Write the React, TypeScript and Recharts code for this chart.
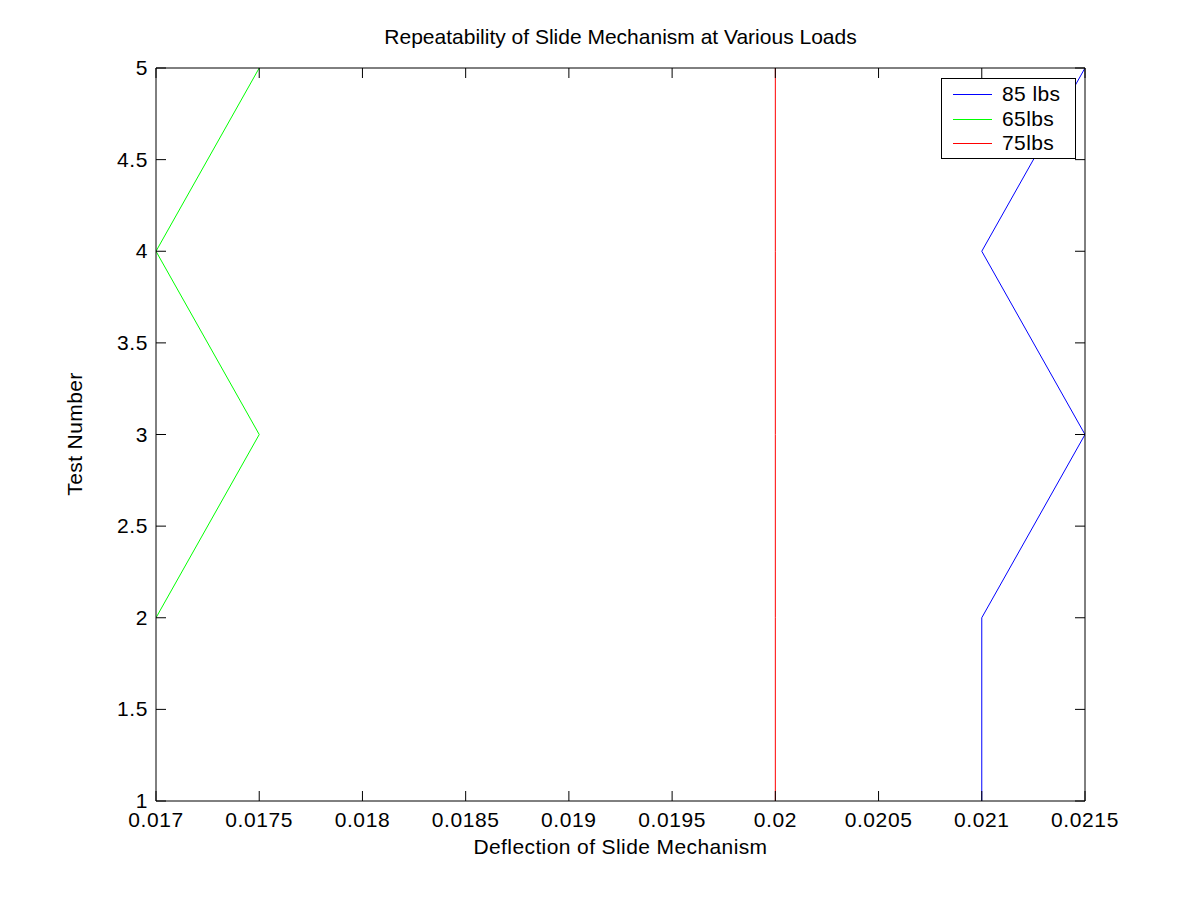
import React from 'react';
import { LineChart, Line, XAxis, YAxis } from 'recharts';

const testNumbers = [1, 2, 3, 4, 5];
const deflection85 = [0.021, 0.021, 0.0215, 0.021, 0.0215];
const deflection65 = [null, 0.017, 0.0175, 0.017, 0.0175];
const deflection75 = [0.02, 0.02, 0.02, 0.02, 0.02];

const xTicks = [0.017, 0.0175, 0.018, 0.0185, 0.019, 0.0195, 0.02, 0.0205, 0.021, 0.0215];
const yTicks = [1, 1.5, 2, 2.5, 3, 3.5, 4, 4.5, 5];

const series = [
  { key: 'b85', name: '85 lbs', color: '#0000ff' },
  { key: 'g65', name: '65lbs', color: '#00ff00' },
  { key: 'r75', name: '75lbs', color: '#ff0000' },
];

const data = testNumbers.map((t, i) => ({
  test: t,
  b85: deflection85[i],
  g65: deflection65[i],
  r75: deflection75[i],
}));

const FONT = '"Liberation Sans", Arial, Helvetica, sans-serif';
const TICK_LEN = 10;

function BottomTick(props: any) {
  const { x, y, payload } = props;
  return (
    <g>
      <line x1={x} y1={y} x2={x} y2={y - TICK_LEN} stroke="#000" />
      <text x={x} y={y + 26} textAnchor="middle" fontSize={21} letterSpacing={0.6} fontFamily={FONT} fill="#000">
        {String(payload.value)}
      </text>
    </g>
  );
}

function TopTick(props: any) {
  const { x, y } = props;
  return <line x1={x} y1={y} x2={x} y2={y + TICK_LEN} stroke="#000" />;
}

function LeftTick(props: any) {
  const { x, y, payload } = props;
  return (
    <g>
      <line x1={x} y1={y} x2={x + TICK_LEN} y2={y} stroke="#000" />
      <text x={x - 8} y={y + 7} textAnchor="end" fontSize={21} letterSpacing={0.6} fontFamily={FONT} fill="#000">
        {String(payload.value)}
      </text>
    </g>
  );
}

function RightTick(props: any) {
  const { x, y } = props;
  return <line x1={x} y1={y} x2={x - TICK_LEN} y2={y} stroke="#000" />;
}

const textStyle: React.CSSProperties = {
  position: 'absolute',
  fontSize: 21,
  lineHeight: '24px',
  color: '#000',
  whiteSpace: 'nowrap',
};

export default function App() {
  return (
    <div style={{ position: 'absolute', left: 0, top: 0, width: 1200, height: 900, background: '#fff', fontFamily: FONT }}>
      <LineChart
        width={1200}
        height={900}
        data={data}
        layout="vertical"
        margin={{ top: 58, right: 105, bottom: 69, left: 96 }}
      >
        <XAxis
          type="number"
          domain={[0.017, 0.0215]}
          ticks={xTicks}
          allowDataOverflow
          height={30}
          tickSize={0}
          tickMargin={0}
          tickLine={false}
          axisLine={{ stroke: '#000' }}
          tick={<BottomTick />}
          interval={0}
        />
        <XAxis
          xAxisId="top"
          orientation="top"
          type="number"
          domain={[0.017, 0.0215]}
          ticks={xTicks}
          allowDataOverflow
          height={10}
          tickSize={0}
          tickMargin={0}
          tickLine={false}
          axisLine={{ stroke: '#000' }}
          tick={<TopTick />}
          interval={0}
        />
        <YAxis
          type="number"
          dataKey="test"
          domain={[1, 5]}
          ticks={yTicks}
          reversed
          allowDataOverflow
          width={60}
          tickSize={0}
          tickMargin={0}
          tickLine={false}
          axisLine={{ stroke: '#000' }}
          tick={<LeftTick />}
          interval={0}
        />
        <YAxis
          yAxisId="right"
          orientation="right"
          type="number"
          dataKey="test"
          domain={[1, 5]}
          ticks={yTicks}
          reversed
          allowDataOverflow
          width={10}
          tickSize={0}
          tickMargin={0}
          tickLine={false}
          axisLine={{ stroke: '#000' }}
          tick={<RightTick />}
          interval={0}
        />
        {series.map((s) => (
          <Line
            key={s.key}
            type="linear"
            dataKey={s.key}
            name={s.name}
            stroke={s.color}
            strokeWidth={1}
            dot={false}
            activeDot={false}
            connectNulls={false}
            isAnimationActive={false}
          />
        ))}
      </LineChart>

      <div style={{ ...textStyle, left: 0, width: 1241, top: 25, textAlign: 'center' }}>
        Repeatability of Slide Mechanism at Various Loads
      </div>
      <div style={{ ...textStyle, left: 0, width: 1241, top: 835, textAlign: 'center', letterSpacing: 0.4 }}>
        Deflection of Slide Mechanism
      </div>
      <div
        style={{
          ...textStyle,
          left: 75,
          top: 434,
          letterSpacing: 0.4,
          transform: 'translate(-50%, -50%) rotate(-90deg)',
        }}
      >
        Test Number
      </div>

      <div
        style={{
          position: 'absolute',
          left: 941,
          top: 78,
          width: 133,
          height: 79,
          border: '1px solid #000',
          background: '#fff',
          boxSizing: 'content-box',
        }}
      >
        <svg width={133} height={79} style={{ position: 'absolute', left: 0, top: 0 }}>
          {series.map((s, i) => (
            <line
              key={s.key}
              x1={11}
              x2={50}
              y1={15.5 + Math.round(i * 24.5)}
              y2={15.5 + Math.round(i * 24.5)}
              stroke={s.color}
              strokeWidth={1}
            />
          ))}
        </svg>
        {series.map((s, i) => (
          <div key={s.key} style={{ ...textStyle, left: 60, top: 3 + Math.round(i * 24.5), letterSpacing: 0.4 }}>
            {s.name}
          </div>
        ))}
      </div>
    </div>
  );
}
